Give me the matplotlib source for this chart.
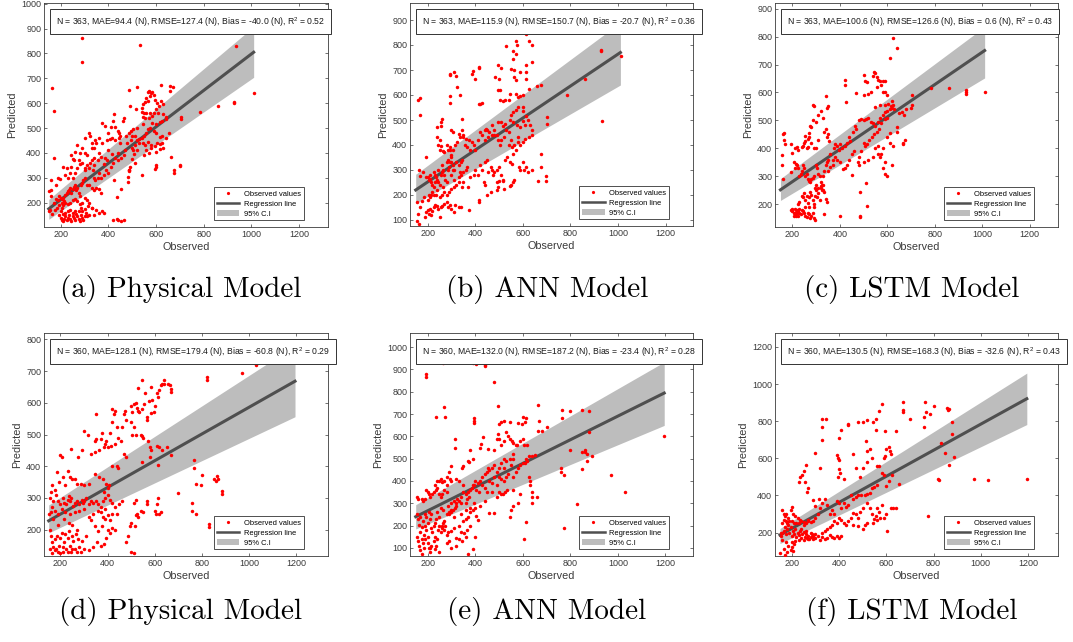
import numpy as np
import matplotlib
matplotlib.use("Agg")
import matplotlib.pyplot as plt
from matplotlib.patches import Patch
from matplotlib.lines import Line2D
from matplotlib.transforms import offset_copy

plt.rcParams['font.family'] = ['Liberation Sans', 'DejaVu Sans']
plt.rcParams['mathtext.default'] = 'regular'

# ---------------- data ----------------
pts_a = [(288,862),(288,767),(165,663),(173,568),(173,380),(535,836),(934,830),(1012,643),(929,606),(929,600),
 (861,588),(786,563),(703,543),(703,535),(700,352),(700,346),(675,330),(675,318),(662,383),(620,674),(660,668),
 (672,665),(660,648),(519,664),(487,655),(565,645),(572,648),(578,640),(585,645),(590,632),(575,628),(560,620),
 (552,605),(595,612),(605,600),(612,590),(620,608),(628,598),(568,610),(545,598),(540,580),(515,578),(490,587),
 (600,575),(610,560),(590,560),(575,560),(560,562),(550,560),(540,565),(545,545),(555,540),(570,540),(585,548),
 (630,555),(640,545),(640,535),(625,530),(615,525),(600,515),(585,520),(575,500),(565,495),(560,480),(550,470),
 (540,460),(530,455),(520,450),(510,430),(500,420),(520,410),(530,440),(545,440),(555,430),(565,445),(580,432),
 (595,428),(605,440),(615,435),(625,440),(630,420),(640,460),(655,480),(625,470),(615,465),(600,480),(590,490),
 (545,515),(520,500),(505,495),(495,490),(485,480),(475,470),(500,470),(510,470),(495,450),(480,440),(470,410),
 (505,410),(508,395),(500,375),(510,360),(490,345),(485,330),(560,410),(570,400),(580,420),(550,390),(600,405),
 (615,415),(600,352),(600,345),(595,335),(540,310),(484,283),(484,303),(488,333),(488,328),(452,256),(438,223),
 (424,290),(425,557),(420,528),(410,505),(430,505),(440,490),(445,480),(460,530),(465,540),(400,480),(385,510),
 (375,520),(360,460),(345,450),(330,440),(320,480),(325,470),(300,460),(290,420),(270,430),(260,405),(280,400),
 (300,400),(310,390),(330,420),(340,420),(350,440),(360,400),(375,440),(395,450),(405,455),(415,460),(430,450),
 (445,460),(450,470),(450,440),(400,410),(385,380),(370,385),(355,370),(340,380),(325,360),(310,350),(290,360),
 (280,355),(300,330),(270,340),(260,320),(250,300),(240,320),(230,300),(220,310),(210,345),(225,340),(245,345),
 (245,390),(250,375),(255,370),(275,370),(300,340),(320,340),(335,330),(340,300),(345,290),(355,300),(360,320),
 (370,300),(380,310),(390,330),(400,320),(410,345),(420,360),(430,380),(440,370),(455,380),(465,390),(440,400),
 (415,395),(395,370),(380,355),(340,350),(330,370),(160,225),(170,200),(180,215),(190,210),(195,225),(200,220),
 (205,215),(210,220),(215,205),(220,230),(225,240),(230,245),(235,250),(240,260),(245,240),(250,255),(255,262),
 (260,270),(265,250),(270,260),(275,240),(280,225),(285,270),(290,280),(295,290),(300,300),(310,270),(320,270),
 (330,260),(340,250),(350,260),(360,255),(370,240),(375,165),(360,160),(340,150),(330,180),(320,200),(310,210),
 (300,220),(290,200),(280,195),(270,205),(260,215),(250,210),(240,200),(230,195),(220,200),(210,190),(205,200),
 (195,190),(185,180),(175,170),(165,155),(155,170),(195,150),(200,140),(205,130),(210,125),(215,135),(220,145),
 (225,130),(230,140),(235,150),(240,135),(245,125),(250,145),(255,140),(260,130),(265,155),(270,145),(275,135),
 (280,125),(285,150),(290,140),(295,130),(300,145),(305,160),(275,165),(260,165),(250,160),(240,170),(230,165),
 (220,160),(210,155),(200,165),(205,180),(290,165),(285,180),(300,175),(315,185),(330,180),(310,145),(320,150),
 (350,170),(380,160),(418,129),(435,135),(440,132),(455,128),(465,132),(150,167),(152,247),(158,250),(160,290),
 (197,297),(180,270),(190,300)]

pts_b = [(612,844),(628,818),(640,800),(570,815),(575,800),(573,765),(560,775),(558,745),(530,797),(495,718),
 (510,708),(550,705),(565,698),(565,670),(570,660),(590,690),(615,690),(615,665),(615,720),(640,730),(660,635),
 (675,640),(627,625),(600,600),(590,595),(580,590),(570,605),(545,605),(540,580),(525,580),(515,575),(505,578),
 (495,620),(505,620),(485,670),(500,665),(415,712),(415,707),(390,695),(388,685),(400,663),(310,690),(295,680),
 (295,685),(320,675),(325,630),(335,600),(295,595),(295,568),(415,565),(420,562),(430,567),(345,505),(260,505),
 (255,490),(255,475),(240,472),(160,578),(168,586),(170,520),(930,780),(930,775),(1012,755),(860,665),(785,600),
 (932,495),(700,512),(700,485),(696,275),(696,255),(676,365),(676,312),(665,255),(600,550),(580,550),(570,540),
 (560,530),(550,520),(545,500),(560,490),(575,480),(590,470),(610,480),(620,500),(630,480),(640,460),(640,440),
 (625,430),(610,425),(600,410),(590,400),(580,410),(565,400),(550,420),(540,450),(530,460),(520,430),(510,420),
 (505,400),(495,420),(490,440),(480,460),(470,480),(460,450),(455,430),(450,460),(440,420),(430,440),(420,450),
 (410,420),(400,380),(395,400),(385,410),(375,420),(360,425),(350,440),(345,460),(335,430),(325,410),(315,400),
 (305,380),(300,360),(295,390),(285,380),(280,400),(270,370),(265,375),(250,380),(245,400),(240,430),(330,445),
 (350,430),(355,400),(365,390),(380,380),(440,460),(445,465),(470,440),(480,440),(515,475),(525,485),(495,490),
 (510,490),(580,430),(600,495),(615,515),(600,535),(420,320),(430,300),(440,330),(450,340),(455,290),(465,310),
 (470,300),(475,280),(480,290),(490,300),(500,310),(510,280),(515,260),(525,340),(535,350),(545,330),(555,325),
 (560,365),(555,390),(540,400),(570,380),(585,310),(590,300),(600,330),(605,300),(615,310),(620,290),(640,300),
 (490,250),(495,230),(490,220),(500,255),(515,255),(520,225),(545,235),(550,240),(560,250),(565,260),(435,250),
 (440,240),(450,200),(465,210),(415,180),(415,170),(375,140),(370,230),(380,270),(395,280),(400,300),(410,280),
 (360,300),(350,290),(365,310),(155,95),(160,125),(165,85),(170,150),(175,175),(185,190),(190,110),(195,130),
 (200,140),(205,125),(210,145),(215,120),(220,135),(225,150),(230,160),(240,155),(245,145),(250,110),(255,150),
 (260,155),(270,165),(280,170),(285,150),(295,160),(300,145),(310,130),(315,160),(330,150),(340,150),(155,170),
 (165,300),(170,275),(180,290),(195,350),(200,270),(205,260),(210,265),(215,250),(220,240),(225,230),(230,250),
 (235,270),(240,260),(245,250),(250,240),(255,280),(260,290),(265,300),(270,280),(275,260),(280,250),(285,300),
 (290,310),(295,330),(300,330),(305,320),(310,300),(320,330),(330,320),(335,290),(340,330),(345,340),(205,200),
 (215,200),(220,210),(235,200),(250,190),(260,200),(270,210),(280,200),(290,210),(300,225),(310,230),(320,240),
 (330,250),(265,230),(240,220),(200,180),(195,270),(210,280),(225,290),(245,300),(260,320),(280,330),(285,340),
 (300,350),(295,380),(300,460),(305,450),(250,420),(255,395),(230,280),(225,200),(210,190),(330,270),(340,280),
 (350,250),(345,230),(310,260),(300,280),(305,300)]

pts_c = [(625,795),(640,758),(612,722),(545,672),(550,668),(540,660),(500,663),(505,640),(515,638),(555,655),
 (560,645),(570,640),(580,640),(590,640),(575,628),(555,620),(530,600),(520,595),(500,590),(470,597),(420,643),
 (420,625),(340,588),(425,565),(580,603),(590,600),(600,590),(620,568),(625,555),(605,560),(590,555),(570,556),
 (548,548),(785,617),(860,617),(930,608),(930,600),(930,595),(1012,603),(705,590),(705,555),(700,545),(680,540),
 (670,520),(660,530),(650,525),(640,475),(675,430),(665,420),(665,415),(640,460),(160,450),(165,455),(163,430),
 (168,415),(195,415),(210,400),(220,405),(225,395),(245,410),(250,420),(255,428),(260,400),(265,405),(270,440),
 (275,480),(280,475),(285,500),(285,555),(290,550),(300,495),(310,520),(320,535),(330,510),(335,460),(340,470),
 (345,545),(350,550),(345,440),(350,450),(355,425),(310,430),(300,400),(290,400),(280,420),(270,455),(265,435),
 (255,445),(240,405),(155,375),(155,340),(160,290),(195,315),(200,385),(205,350),(210,330),(215,345),(220,340),
 (225,330),(230,300),(235,310),(240,320),(245,340),(250,330),(255,300),(260,310),(265,290),(270,285),(275,280),
 (280,290),(285,295),(290,300),(300,340),(305,330),(310,310),(315,300),(320,280),(325,270),(330,300),(335,320),
 (340,340),(345,350),(350,360),(360,380),(370,360),(375,400),(380,415),(390,410),(395,395),(400,415),(410,400),
 (420,410),(430,420),(440,440),(445,425),(455,460),(465,480),(470,470),(480,500),(490,505),(500,500),(510,505),
 (520,510),(530,495),(540,490),(550,480),(560,495),(570,510),(580,520),(590,530),(600,535),(610,540),(615,550),
 (620,545),(630,540),(600,510),(590,505),(575,490),(565,470),(555,460),(545,450),(535,440),(525,430),(515,415),
 (505,410),(500,420),(490,390),(480,370),(475,350),(460,390),(450,380),(440,360),(430,340),(420,330),(415,325),
 (400,350),(390,360),(380,370),(370,340),(360,335),(350,320),(330,250),(320,260),(310,240),(300,270),(295,260),
 (305,225),(315,215),(325,250),(195,180),(200,175),(205,170),(210,165),(215,172),(220,168),(225,175),(230,170),
 (235,165),(240,180),(245,175),(250,168),(255,160),(260,155),(265,170),(270,165),(275,150),(280,160),(285,170),
 (290,150),(295,145),(200,185),(210,185),(220,180),(230,185),(215,160),(225,160),(205,160),(225,200),(230,210),
 (240,230),(245,225),(250,240),(255,215),(260,230),(265,205),(270,225),(275,245),(280,235),(285,215),(290,200),
 (295,230),(300,250),(310,260),(320,265),(330,270),(335,245),(340,220),(345,210),(290,190),(270,190),(255,190),
 (400,160),(485,160),(485,155),(515,195),(510,278),(485,243),(450,305),(480,340),(500,350),(520,360),(540,370),
 (550,400),(560,410),(570,370),(580,330),(590,310),(600,300),(590,350),(610,420),(620,340),(625,410),(610,455),
 (600,440),(580,400),(575,380),(560,380),(335,165)]

pts_d = [(1195,790),(1030,720),(972,695),(822,682),(822,672),(765,420),(765,395),(800,373),(775,345),(797,340),
 (850,360),(860,355),(865,370),(870,360),(885,322),(885,313),(700,315),(760,283),(760,258),(775,248),(830,218),
 (830,208),(870,205),(885,205),(640,673),(545,672),(530,648),(585,650),(610,630),(615,618),(620,640),(625,655),
 (630,660),(640,660),(655,660),(665,655),(670,645),(670,635),(560,630),(575,605),(590,610),(600,590),(595,570),
 (585,568),(565,555),(565,545),(555,595),(545,580),(520,600),(510,595),(500,590),(525,585),(530,575),(535,570),
 (505,570),(475,575),(470,565),(480,545),(500,540),(510,525),(505,500),(520,500),(540,500),(545,495),(550,490),
 (570,480),(580,460),(585,450),(580,430),(610,465),(620,460),(630,450),(650,460),(670,435),(615,405),(545,412),
 (420,580),(430,575),(425,565),(420,540),(440,525),(460,525),(410,505),(375,505),(350,485),(345,480),(370,485),
 (365,450),(385,460),(390,470),(395,480),(400,460),(415,465),(430,470),(445,490),(455,480),(470,440),(480,430),
 (350,565),(300,510),(315,500),(345,445),(330,440),(290,450),(275,430),(245,455),(200,435),(205,430),(230,385),
 (185,383),(165,340),(175,325),(195,350),(210,365),(220,340),(240,365),(250,360),(260,360),(270,345),(285,345),
 (300,340),(320,345),(345,375),(365,365),(380,360),(395,345),(405,340),(420,400),(440,400),(445,395),(400,330),
 (385,320),(155,300),(160,320),(165,270),(170,290),(180,310),(190,290),(200,280),(210,300),(215,285),(225,280),
 (230,295),(235,305),(240,290),(245,300),(255,275),(260,285),(270,290),(280,280),(290,295),(295,285),(300,290),
 (310,300),(320,280),(330,290),(340,285),(350,290),(360,280),(370,270),(380,290),(390,300),(400,310),(410,295),
 (420,285),(430,270),(440,250),(450,280),(460,290),(150,250),(160,255),(175,260),(190,250),(205,265),(220,255),
 (240,250),(260,255),(280,260),(300,265),(320,240),(340,250),(360,260),(380,240),(390,235),(400,245),(410,230),
 (420,250),(390,265),(370,255),(155,200),(160,180),(165,160),(170,145),(175,170),(180,140),(185,180),(190,130),
 (195,150),(200,175),(205,190),(210,145),(215,160),(220,185),(225,140),(230,175),(235,195),(240,150),(245,130),
 (250,180),(255,165),(260,140),(265,185),(270,200),(275,170),(280,145),(285,130),(290,165),(300,140),(310,180),
 (320,135),(340,145),(355,160),(370,150),(385,155),(395,175),(400,200),(410,190),(420,205),(430,200),(345,210),
 (360,195),(375,210),(330,230),(155,140),(165,125),(175,135),(200,125),(210,130),(230,130),(250,140),(270,130),
 (235,220),(215,235),(190,215),(170,235),(250,215),(480,160),(485,180),(495,210),(500,220),(500,130),(510,125),
 (515,210),(520,245),(525,250),(530,240),(540,260),(550,255),(565,280),(565,290),(600,260),(605,250),(610,280),
 (615,300),(620,250),(625,255),(510,285),(520,295)]

pts_e = [(345,950),(265,930),(390,930),(405,925),(410,935),(440,920),(440,915),(195,880),(195,865),(480,845),
 (495,738),(270,730),(275,685),(235,688),(395,680),(395,670),(395,660),(665,740),(600,685),(610,665),(615,680),
 (595,655),(580,660),(545,665),(520,668),(510,665),(500,655),(700,640),(670,670),(665,625),(680,625),(765,717),
 (765,683),(800,712),(850,718),(880,713),(880,620),(800,540),(860,540),(860,530),(870,520),(850,530),(850,455),
 (870,490),(890,512),(760,460),(760,440),(775,425),(970,427),(1030,350),(1195,600),(830,295),(775,188),(605,142),
 (615,218),(300,465),(315,590),(315,550),(345,460),(350,465),(370,490),(375,485),(390,500),(380,540),(420,550),
 (425,565),(435,595),(455,545),(480,540),(490,590),(495,610),(500,590),(510,560),(520,580),(530,620),(540,600),
 (545,590),(555,580),(560,570),(570,560),(575,560),(590,580),(600,590),(605,560),(620,560),(615,500),(620,490),
 (625,510),(640,510),(650,515),(560,500),(560,520),(545,500),(530,490),(520,500),(510,480),(500,460),(490,440),
 (480,470),(470,460),(460,450),(455,460),(450,440),(440,430),(430,420),(420,400),(410,390),(400,400),(390,380),
 (380,360),(370,350),(360,340),(350,350),(340,330),(330,310),(320,300),(315,280),(305,270),(300,260),(290,250),
 (280,350),(270,360),(260,340),(255,330),(250,340),(240,370),(235,360),(230,380),(250,400),(255,410),(260,395),
 (240,400),(225,350),(220,340),(210,330),(205,340),(200,350),(195,360),(190,320),(180,310),(175,320),(160,320),
 (155,330),(460,400),(470,390),(480,420),(490,380),(500,350),(510,340),(520,400),(530,420),(540,430),(550,470),
 (520,460),(500,420),(510,410),(440,370),(430,380),(415,350),(405,360),(395,380),(385,370),(375,330),(365,320),
 (360,300),(350,380),(330,400),(320,410),(300,400),(295,410),(290,440),(280,420),(280,380),(270,400),(560,420),
 (570,440),(580,460),(590,470),(600,480),(610,480),(625,420),(630,400),(630,380),(640,350),(640,330),(640,300),
 (660,330),(590,340),(580,300),(560,290),(550,270),(545,240),(560,360),(535,360),(525,350),(515,340),(490,330),
 (480,255),(470,350),(155,150),(160,130),(165,110),(170,90),(175,140),(180,120),(185,160),(190,200),(195,180),
 (200,150),(205,100),(210,80),(215,110),(220,170),(225,130),(230,150),(235,110),(240,140),(245,180),(250,200),
 (255,170),(260,190),(265,210),(270,180),(275,200),(280,160),(285,170),(290,130),(300,175),(310,190),(320,110),
 (330,140),(340,170),(345,130),(355,165),(360,150),(365,180),(370,75),(380,200),(390,95),(400,150),(410,225),
 (405,245),(155,250),(160,230),(170,240),(180,220),(190,250),(195,240),(205,260),(210,230),(215,250),(225,200),
 (230,210),(240,260),(250,240),(260,200),(270,220),(280,250),(290,260),(300,270),(310,240),(320,290),(330,200),
 (340,250),(350,220),(360,230),(370,240),(380,260),(390,270),(400,280),(165,205),(175,195),(200,210),(185,100),
 (175,75),(200,120),(210,100),(230,95),(250,80),(280,120),(300,100),(320,145),(170,170),(190,140),(215,190),
 (235,230),(255,280),(265,270),(285,290),(300,300),(310,310),(325,320),(340,300),(360,270),(420,290),(440,310),
 (450,350),(460,255),(395,300),(380,280)]

pts_f = [(670,905),(765,902),(580,890),(568,855),(670,860),(670,850),(855,870),(860,860),(865,865),(800,883),
 (785,840),(770,850),(760,820),(760,770),(700,810),(640,745),(595,745),(555,810),(545,795),(520,808),(500,795),
 (480,795),(440,785),(440,780),(410,755),(330,810),(345,810),(330,770),(330,700),(400,710),(515,695),(530,650),
 (555,755),(880,798),(880,730),(830,682),(850,628),(885,605),(865,565),(820,490),(825,485),(970,490),(1030,482),
 (1195,487),(775,288),(605,210),(655,460),(640,330),(630,330),(620,330),(300,628),(320,550),(260,563),(250,530),
 (245,510),(235,500),(230,470),(255,470),(265,420),(270,440),(290,375),(300,345),(315,380),(390,620),(395,600),
 (400,590),(400,545),(405,520),(395,500),(420,490),(460,625),(470,550),(490,500),(500,550),(520,640),(520,580),
 (540,600),(560,560),(570,560),(580,520),(590,600),(595,610),(600,650),(610,660),(615,640),(620,625),(625,510),
 (600,450),(610,480),(590,510),(560,455),(550,445),(540,440),(530,415),(520,410),(510,400),(495,400),(480,400),
 (470,390),(460,380),(450,400),(440,350),(430,340),(420,360),(410,330),(400,360),(390,370),(380,300),(370,320),
 (360,300),(350,350),(340,380),(330,360),(320,330),(310,300),(300,280),(290,260),(280,255),(270,260),(260,250),
 (250,255),(240,260),(230,250),(220,250),(520,360),(530,330),(540,300),(550,275),(555,290),(560,330),(580,350),
 (570,310),(575,280),(500,330),(490,310),(480,280),(470,300),(460,305),(450,280),(440,260),(430,240),(420,250),
 (410,270),(400,280),(390,250),(380,260),(370,240),(360,230),(350,220),(340,210),(330,200),(460,240),(480,235),
 (500,220),(510,240),(520,250),(545,250),(560,270),(590,280),(600,300),(155,180),(160,200),(165,210),(170,230),
 (175,190),(180,220),(185,240),(190,200),(195,230),(200,180),(205,210),(210,195),(215,220),(220,175),(225,200),
 (230,185),(235,210),(240,170),(245,190),(250,205),(255,175),(260,195),(265,170),(270,180),(275,165),(280,175),
 (285,190),(290,165),(300,170),(310,180),(320,160),(330,175),(340,165),(350,170),(360,185),(370,175),(380,170),
 (390,180),(400,170),(410,180),(160,250),(165,270),(170,290),(175,300),(160,320),(165,300),(175,260),(185,280),
 (195,320),(200,340),(205,300),(215,290),(225,280),(235,270),(200,260),(210,250),(180,250),(190,260),(150,90),
 (165,110),(170,80),(180,95),(195,105),(200,120),(205,100),(210,140),(185,130),(155,200),(160,160),(175,150),
 (200,150),(215,155),(230,160),(250,160),(270,165),(290,180),(300,195),(280,200),(260,210),(240,220),(250,240),
 (270,270)]

# regression lines and 95% C.I. band edges (x ends, y values)
reg_x = {'a': [150, 1010], 'b': [150, 1010], 'c': [150, 1010],
         'd': [150, 1195], 'e': [150, 1195], 'f': [150, 1195]}
reg_y = {'a': [175, 805], 'b': [220, 770], 'c': [252, 750],
         'd': [228, 668], 'e': [240, 794], 'f': [187, 921]}
ci_hi = {'a': [213, 908], 'b': [283, 890], 'c': [292, 835],
         'd': [278, 780], 'e': [294, 933], 'f': [222, 1059]}
ci_lo = {'a': [133, 704], 'b': [166, 640], 'c': [214, 652],
         'd': [190, 556], 'e': [185, 649], 'f': [141, 782]}

stats = {
    'a': "N = 363, MAE=94.4 (N), RMSE=127.4 (N), Bias = -40.0 (N), R$^{2}$ = 0.52",
    'b': "N = 363, MAE=115.9 (N), RMSE=150.7 (N), Bias = -20.7 (N), R$^{2}$ = 0.36",
    'c': "N = 363, MAE=100.6 (N), RMSE=126.6 (N), Bias = 0.6 (N), R$^{2}$ = 0.43",
    'd': "N = 360, MAE=128.1 (N), RMSE=179.4 (N), Bias = -60.8 (N), R$^{2}$ = 0.29",
    'e': "N = 360, MAE=132.0 (N), RMSE=187.2 (N), Bias = -23.4 (N), R$^{2}$ = 0.28",
    'f': "N = 360, MAE=130.5 (N), RMSE=168.3 (N), Bias = -32.6 (N), R$^{2}$ = 0.43",
}
captions = {'a': '(a) Physical Model', 'b': '(b) ANN Model', 'c': '(c) LSTM Model',
            'd': '(d) Physical Model', 'e': '(e) ANN Model', 'f': '(f) LSTM Model'}
x_ticks = [200, 400, 600, 800, 1000, 1200]
y_ticks = {'a': list(range(200, 1001, 100)), 'b': list(range(100, 901, 100)),
           'c': list(range(200, 901, 100)), 'd': list(range(200, 801, 100)),
           'e': list(range(100, 1001, 100)), 'f': list(range(200, 1201, 200))}
xlims = {'a': (130, 1322), 'b': (126, 1315), 'c': (127, 1319),
         'd': (130, 1335), 'e': (126, 1316), 'f': (129, 1327)}
ylims = {'a': (102, 1003), 'b': (76, 968), 'c': (119, 920),
         'd': (117, 820), 'e': (64, 1063), 'f': (74, 1275)}
points = {'a': pts_a, 'b': pts_b, 'c': pts_c, 'd': pts_d, 'e': pts_e, 'f': pts_f}

# ---------------- layout ----------------
W, H = 1073, 642
fig = plt.figure(figsize=(W / 100, H / 100), dpi=100)

boxes = {'a': (44, 328, 3, 227), 'b': (410, 693, 3, 226), 'c': (775, 1058, 3, 227),
         'd': (44, 328, 333, 556), 'e': (410, 693, 333, 556), 'f': (775, 1058, 333, 556)}
cap_pos = {'a': (181, 290), 'b': (547, 290), 'c': (912, 290),
           'd': (181, 612), 'e': (547, 612), 'f': (912, 612)}

axcol = '#3a3a3a'
band_col = '#bdbdbd'
line_col = '#4f4f4f'

for k in 'abcdef':
    l, r, t, b = boxes[k]
    ax = fig.add_axes([l / W, 1 - b / H, (r - l) / W, (b - t) / H])
    ax.fill_between(reg_x[k], ci_lo[k], ci_hi[k], color=band_col, lw=0, zorder=1)
    ax.plot(reg_x[k], reg_y[k], color=line_col, lw=2.2, zorder=2)
    arr = np.array(points[k], dtype=float)
    ax.plot(arr[:, 0], arr[:, 1], 'o', color='red', ms=2.5, mec='none', zorder=3)
    ax.set_xlim(*xlims[k])
    ax.set_ylim(*ylims[k])
    ax.set_xticks(x_ticks)
    ax.set_yticks(y_ticks[k])
    ax.tick_params(direction='in', length=2.5, width=0.5, labelsize=6.5,
                   colors=axcol, top=True, right=True, pad=2)
    for s in ax.spines.values():
        s.set_color(axcol)
        s.set_linewidth(0.6)
    ax.set_xlabel('Observed', fontsize=7.8, color=axcol, labelpad=2)
    ax.set_ylabel('Predicted', fontsize=7.8, color=axcol, labelpad=3)

    tr = offset_copy(ax.transAxes, fig=fig, x=12, y=-12, units='dots')
    ax.text(0, 1, stats[k], transform=tr, ha='left', va='top', fontsize=6.2,
            color='#1a1a1a', zorder=5,
            bbox=dict(boxstyle='square,pad=0.65', fc='white', ec='#333333', lw=0.7),
            clip_on=False)

    handles = [Line2D([], [], ls='none', marker='o', color='red', ms=2.3, mec='none'),
               Line2D([], [], color=line_col, lw=1.8),
               Patch(facecolor=band_col, edgecolor='none')]
    leg = ax.legend(handles, ['Observed values', 'Regression line', '95% C.I'],
                    loc='lower right', bbox_to_anchor=(0.914, 0.03), fontsize=5.4,
                    frameon=True, fancybox=False, framealpha=1, edgecolor='#333333',
                    handlelength=3.0, handleheight=0.9, labelspacing=0.3,
                    borderpad=0.35, handletextpad=0.6, borderaxespad=0)
    leg.get_frame().set_linewidth(0.6)

    cx, cy = cap_pos[k]
    fig.text(cx / W, 1 - cy / H, captions[k], ha='center', va='center',
             fontsize=21, family='cmr10')

fig.savefig('out.png', dpi=100)
